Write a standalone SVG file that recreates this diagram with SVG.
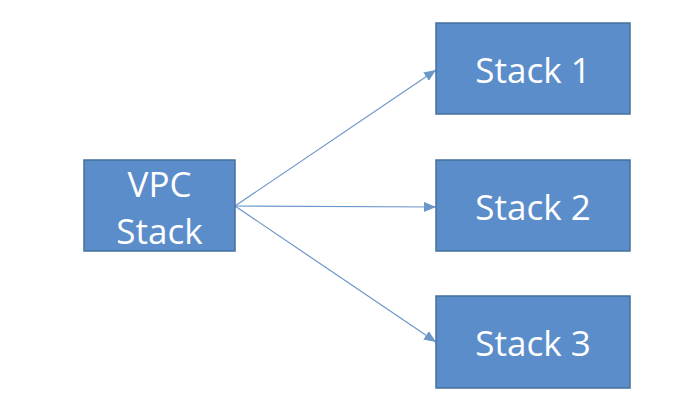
<svg xmlns="http://www.w3.org/2000/svg" width="700" height="418" viewBox="0 0 700 418">
<defs>
<style>
.box{fill:#5b8dcb;stroke:#46709c;stroke-width:1.5}
.lbl{font-family:"Open Sans","Noto Sans",sans-serif;font-size:35px;fill:#ffffff;text-anchor:middle}
.conn{stroke:#6b96c8;stroke-width:1.2;fill:none}
</style>
<marker id="ah" markerWidth="12" markerHeight="10" refX="12" refY="5" orient="auto" markerUnits="userSpaceOnUse">
<path d="M0,0 L12,5 L0,10 Z" fill="#6b96c8"/>
</marker>
</defs>
<rect width="700" height="418" fill="#ffffff"/>
<g id="connectors">
<line class="conn" x1="235" y1="206" x2="436" y2="70" marker-end="url(#ah)"/>
<line class="conn" x1="235" y1="206" x2="436" y2="207" marker-end="url(#ah)"/>
<line class="conn" x1="235" y1="206" x2="436" y2="342" marker-end="url(#ah)"/>
</g>
<g id="vpc">
<rect class="box" x="84" y="160" width="151" height="91"/>
<text class="lbl" x="159.5" y="197">VPC</text>
<text class="lbl" x="159.5" y="244">Stack</text>
</g>
<g id="stack1">
<rect class="box" x="436" y="23" width="194" height="91"/>
<text class="lbl" x="533" y="83">Stack 1</text>
</g>
<g id="stack2">
<rect class="box" x="436" y="160" width="194" height="91"/>
<text class="lbl" x="533" y="220">Stack 2</text>
</g>
<g id="stack3">
<rect class="box" x="436" y="296" width="194" height="92"/>
<text class="lbl" x="533" y="356">Stack 3</text>
</g>
</svg>
